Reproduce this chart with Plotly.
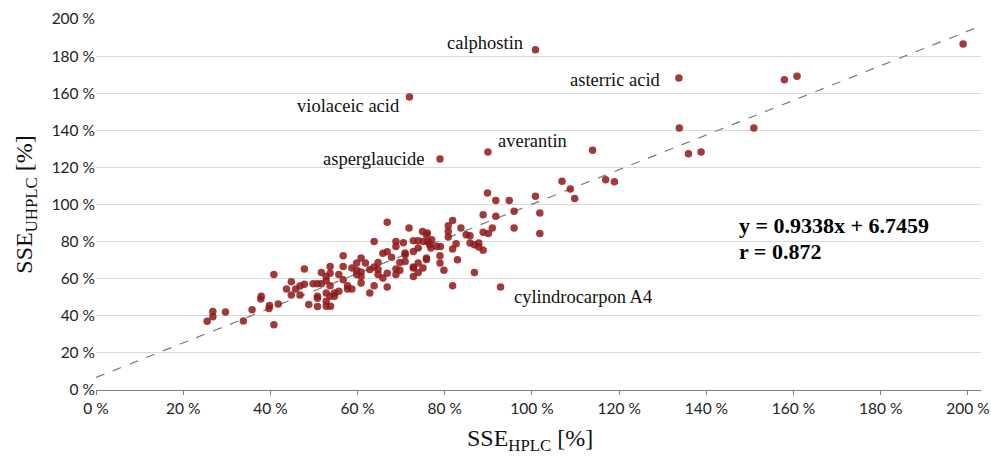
import plotly.graph_objects as go

# SSE values (%)
x_hplc = [25.5, 26.8, 26.8, 29.7, 33.8, 35.8, 37.8, 37.9, 39.7, 39.8, 40.8, 40.8, 41.8, 43.7, 44.8, 44.8,
          45.8, 46.8, 46.8, 47.8, 47.8, 48.8, 49.8, 50.8, 50.8, 50.8, 50.8, 51.7, 51.7, 52.8, 52.8, 52.8,
          52.8, 52.8, 53.7, 53.7, 53.7, 53.7, 53.8, 54.7, 54.7, 55.7, 55.7, 56.7, 56.7, 56.7, 57.7, 57.7,
          58.7, 58.7, 59.8, 59.8, 59.8, 60.8, 60.8, 60.8, 60.8, 61.8, 62.8, 62.8, 63.8, 63.8, 63.8, 64.7,
          64.7, 64.7, 65.8, 65.8, 66.8, 66.8, 66.8, 66.8, 67.8, 68.8, 68.8, 68.8, 68.8, 69.7, 69.7, 70.5,
          70.9, 70.9, 70.9, 71.8, 72.8, 72.8, 72.8, 72.8, 72.8, 73.9, 73.9, 73.9, 73.9, 74.9, 75.1, 75.0,
          75.8, 75.8, 75.8, 76.0, 76.1, 76.5, 77.0, 76.8, 78.1, 78.9, 78.9, 79.0, 79.8, 80.8, 80.8, 80.8,
          81.8, 81.8, 81.8, 82.6, 82.9, 83.7, 84.9, 85.8, 85.8, 86.8, 86.8, 87.8, 87.8, 88.8, 88.8, 88.8,
          89.8, 90.0, 90.9, 91.7, 91.7, 92.8, 94.8, 95.9, 95.9, 100.8, 101.8, 101.8, 106.9, 108.8, 109.8,
          113.9, 116.9, 118.9, 133.8, 135.9, 138.8, 150.9, 157.9, 160.8, 198.9,
          100.8, 71.9, 89.9, 78.9, 133.7]
y_uhplc = [37.0, 39.5, 42.3, 42.0, 37.2, 43.3, 49.0, 50.5, 44.0, 45.5, 35.2, 62.3, 46.4, 54.4, 58.4, 51.2,
           54.4, 56.0, 51.2, 65.2, 57.0, 46.1, 57.3, 57.3, 49.5, 50.5, 45.0, 63.4, 57.3, 61.2, 58.9, 52.3,
           47.8, 45.1, 66.6, 63.0, 56.2, 50.5, 45.1, 50.5, 52.3, 53.2, 62.2, 72.4, 66.6, 59.5, 54.4, 56.2,
           54.4, 65.8, 68.5, 64.5, 62.2, 71.2, 63.6, 57.7, 61.2, 68.5, 64.9, 52.3, 80.1, 56.2, 66.3, 64.9,
           62.2, 68.8, 60.4, 73.7, 90.4, 74.5, 63.0, 55.5, 71.5, 80.1, 77.4, 65.2, 62.2, 68.8, 64.5, 79.4,
           72.9, 69.3, 73.9, 87.3, 80.5, 74.7, 66.3, 61.2, 65.8, 80.5, 76.6, 68.5, 63.4, 85.5, 80.1, 65.8,
           71.2, 70.3, 83.7, 84.6, 80.0, 78.5, 81.0, 76.5, 77.4, 72.4, 68.5, 77.4, 64.5, 88.5, 85.5, 82.5,
           91.4, 76.0, 56.2, 78.9, 70.2, 87.3, 83.7, 83.2, 79.2, 78.3, 63.4, 79.2, 77.1, 94.5, 85.0, 75.3,
           106.2, 84.3, 87.3, 102.2, 93.6, 55.5, 102.2, 96.3, 87.3, 104.4, 95.4, 84.3, 112.5, 108.4, 103.3,
           129.2, 113.4, 112.3, 141.2, 127.4, 128.3, 141.2, 167.3, 169.1, 186.5,
           183.4, 158.0, 128.3, 124.5, 168.2]

# labelled compounds (their points are in the arrays above)
label_names = ["calphostin", "asterric acid", "violaceic acid", "averantin", "asperglaucide", "cylindrocarpon A4"]
label_x = [100.8, 133.7, 71.9, 89.9, 78.9, 92.8]
label_y = [183.4, 168.2, 158.0, 128.3, 124.5, 55.5]

slope = 0.9338
intercept = 6.7459
r_value = 0.872

x_ticks = list(range(0, 201, 20))
y_ticks = list(range(0, 201, 20))

fig = go.Figure()

fit_x = [0, 203]
fig.add_trace(go.Scatter(x=fit_x, y=[slope * v + intercept for v in fit_x], mode="lines",
                         line=dict(color="#7a7a7a", width=1.2, dash="dash"),
                         hoverinfo="skip", showlegend=False))

fig.add_trace(go.Scatter(x=x_hplc, y=y_uhplc, mode="markers",
                         marker=dict(color="rgba(145,25,25,0.85)", size=7.5, line=dict(width=0)),
                         showlegend=False))

label_style = [
    dict(xanchor="right", xshift=-10, yshift=7),
    dict(xanchor="right", xshift=-16, yshift=-2),
    dict(xanchor="right", xshift=-7, yshift=-9),
    dict(xanchor="left", xshift=8, yshift=11),
    dict(xanchor="right", xshift=-14, yshift=0),
    dict(xanchor="left", xshift=11, yshift=-10),
]
for name, lx, ly, st in zip(label_names, label_x, label_y, label_style):
    fig.add_annotation(x=lx, y=ly, text=name, showarrow=False, yanchor="middle",
                       font=dict(family="Liberation Serif", size=18.5, color="#111"), **st)

eq_font = dict(family="Liberation Serif", size=22, color="#000")
fig.add_annotation(x=147.0, y=88.6, xanchor="left", yanchor="middle", showarrow=False,
                   text=f"<b>y = {slope}x + {intercept}</b>", font=eq_font)
fig.add_annotation(x=147.0, y=74.6, xanchor="left", yanchor="middle", showarrow=False,
                   text=f"<b>r = {r_value}</b>", font=eq_font)

title_font = dict(family="Liberation Serif", size=24, color="#111")
fig.add_annotation(xref="paper", yref="paper", x=0.49, y=-0.135, xanchor="center", yanchor="middle",
                   showarrow=False, text="SSE<sub>HPLC</sub> [%]", font=title_font)
fig.add_annotation(xref="paper", yref="paper", x=-0.080, y=0.50, xanchor="center", yanchor="middle",
                   showarrow=False, textangle=-90, text="SSE<sub>UHPLC</sub> [%]", font=title_font)

tick_font = dict(family="Lato", size=15.5, color="#222")
fig.update_layout(
    width=991, height=459,
    margin=dict(l=96, r=10, t=19, b=69, autoexpand=False),
    plot_bgcolor="white", paper_bgcolor="white",
    xaxis=dict(range=[0, 203], tickvals=x_ticks, ticktext=[f"{v} %" for v in x_ticks],
               showgrid=False, zeroline=False, showline=True, linecolor="#7f7f7f", linewidth=1.3,
               ticks="outside", ticklen=4, tickcolor="#7f7f7f", tickfont=tick_font, automargin=False),
    yaxis=dict(range=[0, 200], tickvals=y_ticks, ticktext=[f"{v} %" for v in y_ticks],
               showgrid=True, gridcolor="#dadada", gridwidth=1, zeroline=False, showline=False,
               ticks="", tickfont=tick_font, automargin=False),
)

fig.write_html("out.html", config={"displayModeBar": False},
               post_script="document.body.style.margin='0';document.body.style.padding='0';")
